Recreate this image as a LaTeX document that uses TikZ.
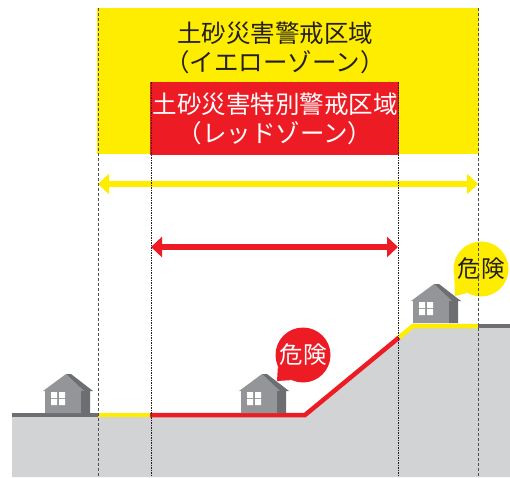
\documentclass[tikz,border=0pt]{standalone}
\usepackage{fontspec}
\newfontfamily\jpfont{Noto Sans CJK JP}
\usetikzlibrary{arrows.meta}
\definecolor{zoneyellow}{HTML}{FFED00}
\definecolor{zonered}{HTML}{ED1C24}
\definecolor{groundgray}{HTML}{D1D3D4}
\definecolor{stripgray}{HTML}{6D6E71}
\definecolor{houselight}{HTML}{939598}
\definecolor{housedark}{HTML}{6D6E71}
\definecolor{guidegray}{HTML}{4D4D4D}
\definecolor{inkblack}{HTML}{231F20}
\tikzset{
  title/.style={font=\jpfont\fontsize{24.5}{29}\selectfont, align=center, inner sep=0},
  bubble/.style={circle, minimum size=55pt, inner sep=0, font=\jpfont\fontsize{23.5}{23.5}\selectfont},
  outerguide/.style={guidegray, line width=1pt, dash pattern=on 3pt off 2pt},
  innerguide/.style={inkblack, line width=0.8pt, dash pattern=on 1.5pt off 1pt},
  span/.style={line width=6pt},
  surface/.style={line width=4.5pt},
  house/.pic={
    \fill[houselight] (0,0) -- (0,-22) -- (-2,-22) -- (21,-39) -- (39,-22) -- (36,-22) -- (36,0) -- cycle;
    \fill[housedark] (21,-39) -- (26,-39) -- (48,-22) -- (45,-22) -- (45,0) -- (36,0) -- (36,-22) -- (39,-22) -- cycle;
    \fill[white] (6,-21) rectangle (12,-15) (14,-21) rectangle (20,-15)
                 (6,-14) rectangle (12,-8) (14,-14) rectangle (20,-8);
  }
}
\begin{document}
\begin{tikzpicture}[x=1pt,y=-1pt]
\useasboundingbox (0,0) rectangle (510,477);

% warning zones
\fill[zoneyellow] (97,8) rectangle (479,154);
\fill[zonered] (150,82) rectangle (399,155);
\node[title, text=inkblack] (yellowtitle) at (275,48) {土砂災害警戒区域\\（イエローゾーン）};
\node[title, text=white] (redtitle) at (275,119) {土砂災害特別警戒区域\\（レッドゾーン）};

% ground profile
\coordinate (g0) at (12,415);
\coordinate (g1) at (98,415);
\coordinate (g2) at (150,415);
\coordinate (g3) at (305,415);
\coordinate (g4) at (399,337.5);
\coordinate (g5) at (413,326);
\coordinate (g6) at (478,326);
\coordinate (g7) at (510,326);
\fill[groundgray] (g0) -- (g3) -- (g5) -- (g7) -- (510,477) -- (12,477) -- cycle;
\draw[surface, stripgray] (g0) -- (g1);
\draw[surface, zoneyellow] (g1) -- (g2);
\draw[surface, zonered, line join=miter] (g2) -- (g3) -- (g4);
\draw[surface, zoneyellow, line join=miter] (g4) -- (g5) -- (g6);
\draw[surface, stripgray] (g6) -- (g7);

% houses
\pic at (45,413) {house};
\pic at (241,413) {house};
\pic at (413,323) {house};

% danger bubbles
\node[bubble, fill=zonered, text=white] (reddanger) at (303,355) {危険};
\fill[zonered] (reddanger.205) -- (277,381) -- (reddanger.245) -- cycle;
\node[bubble, fill=zoneyellow, text=inkblack] (yellowdanger) at (481,269) {危険};
\fill[zoneyellow] (yellowdanger.195) -- (455,296) -- (yellowdanger.240) -- cycle;

% extent arrows
\coordinate (ya) at (98,184);
\coordinate (yb) at (478,184);
\coordinate (ra) at (151,247);
\coordinate (rb) at (398,247);
\draw[span, zoneyellow, {Triangle[length=11pt,width=20pt]}-{Triangle[length=11pt,width=20pt]}] (ya) -- (yb);
\draw[span, zonered, {Triangle[length=11pt,width=20pt]}-{Triangle[length=11pt,width=20pt]}] (ra) -- (rb);

% zone boundaries
\coordinate (o1t) at (98,8);   \coordinate (o1b) at (98,477);
\coordinate (o2t) at (478,8);  \coordinate (o2b) at (478,477);
\coordinate (i1t) at (151,82); \coordinate (i1b) at (151,477);
\coordinate (i2t) at (398,82); \coordinate (i2b) at (398,477);
\draw[outerguide] (o1t) -- (o1b);
\draw[outerguide] (o2t) -- (o2b);
\draw[innerguide] (i1t) -- (i1b);
\draw[innerguide] (i2t) -- (i2b);
\end{tikzpicture}
\end{document}
